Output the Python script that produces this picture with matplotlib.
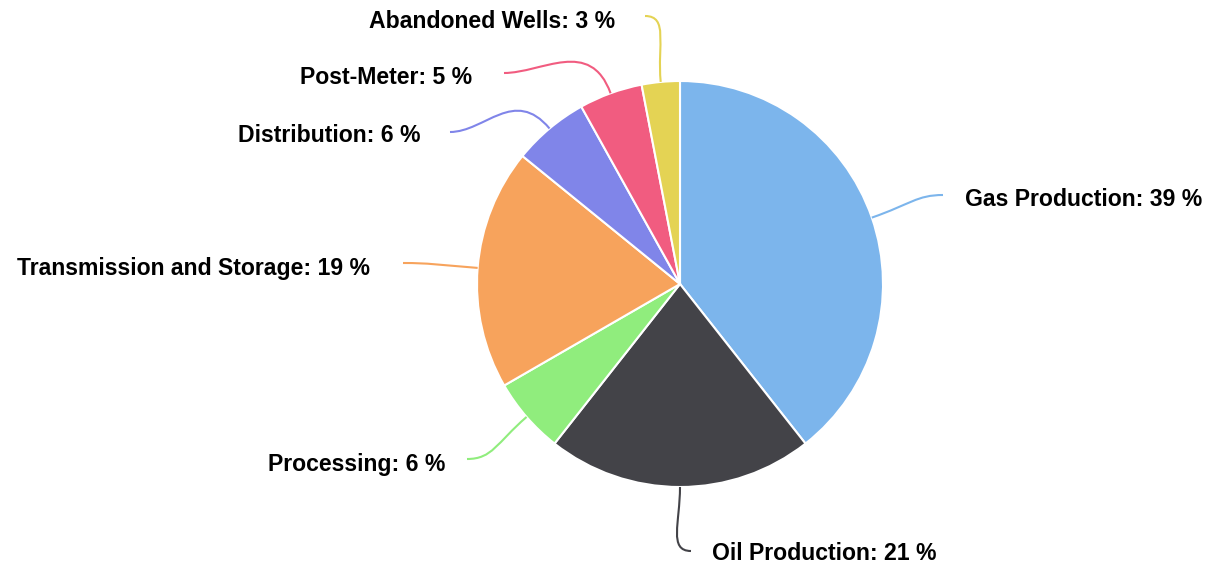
import numpy as np
import matplotlib as mpl
mpl.use('Agg')
import matplotlib.pyplot as plt
from matplotlib.path import Path
from matplotlib.patches import PathPatch

# methane emission shares by segment
sectors = ['Gas Production', 'Oil Production', 'Processing',
           'Transmission and Storage', 'Distribution', 'Post-Meter',
           'Abandoned Wells']
shares = [39, 21, 6, 19, 6, 5, 3]
colors = ['#7cb5ec', '#434348', '#90ed7d', '#f7a35c', '#8085e9',
          '#f15c80', '#e4d354']

# label anchor (pixel coords, y down) and connector end point
label_pos = [(965, 200), (712, 553), (445, 464), (370, 269),
             (421, 135), (472, 78), (615, 22)]
line_end = [(943, 195), (691, 551), (467, 459), (403, 263),
            (450, 132), (504, 73), (645, 16)]

W, H = 1213, 567
cx, cy, r = 680, 284, 203

plt.rcParams['font.family'] = ['Liberation Sans', 'DejaVu Sans']

fig = plt.figure(figsize=(W / 100, H / 100), dpi=100)
ax = fig.add_axes([0, 0, 1, 1])
ax.axis('off')

ax.pie(shares, colors=colors, center=(cx, cy), radius=r,
       startangle=-90, counterclock=True,
       wedgeprops=dict(edgecolor='white', linewidth=1.5))
ax.set_xlim(0, W)
ax.set_ylim(H, 0)
ax.set_aspect('equal')

total = sum(shares)
cum = np.cumsum([0] + shares)
for i, name in enumerate(sectors):
    mid = (cum[i] + cum[i + 1]) / 2 / total
    theta = np.deg2rad(-90 + mid * 360)
    d = np.array([np.cos(theta), np.sin(theta)])
    p0 = np.array([cx, cy]) + r * d
    p3 = np.array(line_end[i], dtype=float)
    dist = np.linalg.norm(p3 - p0)
    p1 = p0 + d * dist * 0.55
    side = 1 if cx > p3[0] else -1
    p2 = p3 + np.array([side * dist * 0.35, 0])
    path = Path([p0, p1, p2, p3],
                [Path.MOVETO, Path.CURVE4, Path.CURVE4, Path.CURVE4])
    ax.add_patch(PathPatch(path, fill=False, edgecolor=colors[i], lw=1.5))

    lx, ly = label_pos[i]
    ha = 'left' if lx > cx else 'right'
    ax.text(lx, ly, f'{name}: {shares[i]} %', ha=ha, va='center',
            fontsize=16.6, fontweight='bold', color='#000000')

fig.savefig('out.png', dpi=100)
